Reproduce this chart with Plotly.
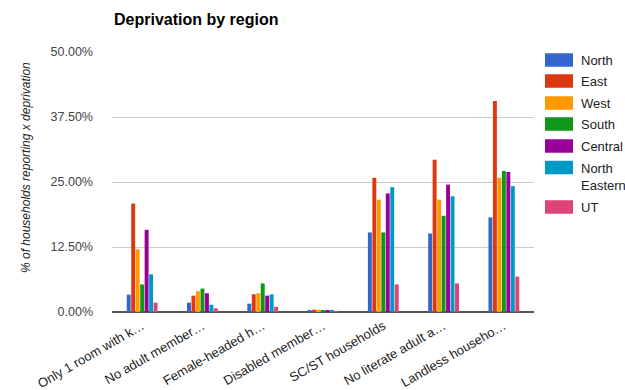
import plotly.graph_objects as go

categories = [
    "Only 1 room with k…",
    "No adult member…",
    "Female-headed h…",
    "Disabled member…",
    "SC/ST households",
    "No literate adult a…",
    "Landless househo…",
]
regions = ["North", "East", "West", "South", "Central", "North Eastern", "UT"]
legend_labels = ["North", "East", "West", "South", "Central", "North<br>Eastern", "UT"]
colors = ["#3366cc", "#dc3912", "#ff9900", "#109618", "#990099", "#0099c6", "#dd4477"]

# percent of households reporting each deprivation, per region
north = [3.35, 1.8, 1.6, 0.3, 15.3, 15.1, 18.2]
east = [20.85, 3.15, 3.4, 0.45, 25.8, 29.3, 40.6]
west = [12.05, 4.0, 3.6, 0.45, 21.6, 21.6, 25.8]
south = [5.3, 4.5, 5.5, 0.35, 15.3, 18.5, 27.1]
central = [15.8, 3.6, 3.15, 0.4, 22.8, 24.5, 26.9]
north_eastern = [7.25, 1.4, 3.4, 0.4, 24.0, 22.25, 24.2]
ut = [1.8, 0.7, 1.0, 0.05, 5.3, 5.5, 6.8]
series = [north, east, west, south, central, north_eastern, ut]

y_ticks = [0, 12.5, 25, 37.5, 50]
y_tick_text = ["0.00%", "12.50%", "25.00%", "37.50%", "50.00%"]

W, H = 625, 390
L, R, T, B = 112, 91, 52, 78
pw, ph = W - L - R, H - T - B

fig = go.Figure()
for name, vals, col in zip(regions, series, colors):
    fig.add_trace(go.Bar(
        x=categories, y=vals, name=name,
        marker=dict(color=col, line=dict(width=0)),
        showlegend=False,
    ))

fig.update_layout(
    width=W, height=H,
    margin=dict(l=L, r=R, t=T, b=B, pad=0, autoexpand=False),
    paper_bgcolor="white", plot_bgcolor="white",
    barmode="group", bargap=0.48, bargroupgap=0.12,
    font=dict(family="Liberation Sans, Arial, sans-serif", size=12, color="#222"),
    xaxis=dict(
        tickangle=-30, showgrid=False, ticks="", showline=False,
        tickfont=dict(size=13, color="#222"), zeroline=False,
        automargin=False, ticklabelstandoff=3,
    ),
    yaxis=dict(
        range=[0, 50], tickvals=y_ticks, ticktext=y_tick_text,
        showgrid=True, gridcolor="#cccccc", gridwidth=1,
        zeroline=True, zerolinecolor="#555555", zerolinewidth=2,
        tickfont=dict(size=12.5, color="#444"), ticks="",
        ticklabelstandoff=18, automargin=False,
    ),
)

fig.add_annotation(
    text="<b>Deprivation by region</b>", xref="paper", yref="paper",
    x=0, y=1, xshift=0, yshift=22, xanchor="left", yanchor="bottom",
    showarrow=False, font=dict(size=16, color="#000"),
)
fig.add_annotation(
    text="<i>% of households reporting x deprivation</i>",
    xref="paper", yref="paper", x=-(L - 17) / pw, y=1 - (168 - T) / ph,
    textangle=-90, showarrow=False, font=dict(size=12, color="#222"),
)

# legend drawn as swatches with labels to the right of the plot
legend_centers = [60, 81, 103, 124, 146, 167.5, 207]
for lab, col, cy in zip(legend_labels, colors, legend_centers):
    x0 = (545 - L) / pw
    x1 = (573 - L) / pw
    y0 = 1 - (cy - 6.75 - T) / ph
    y1 = 1 - (cy + 6.75 - T) / ph
    fig.add_shape(type="rect", xref="paper", yref="paper",
                  x0=x0, x1=x1, y0=y1, y1=y0,
                  fillcolor=col, line=dict(width=0))
    fig.add_annotation(
        text=lab, xref="paper", yref="paper",
        x=(579 - L) / pw, y=1 - (cy - T) / ph,
        xanchor="left", yanchor="middle" if "<br>" not in lab else "top",
        yshift=9 if "<br>" in lab else 0,
        align="left", showarrow=False, font=dict(size=13, color="#222"),
    )

fig.write_html("out.html")
